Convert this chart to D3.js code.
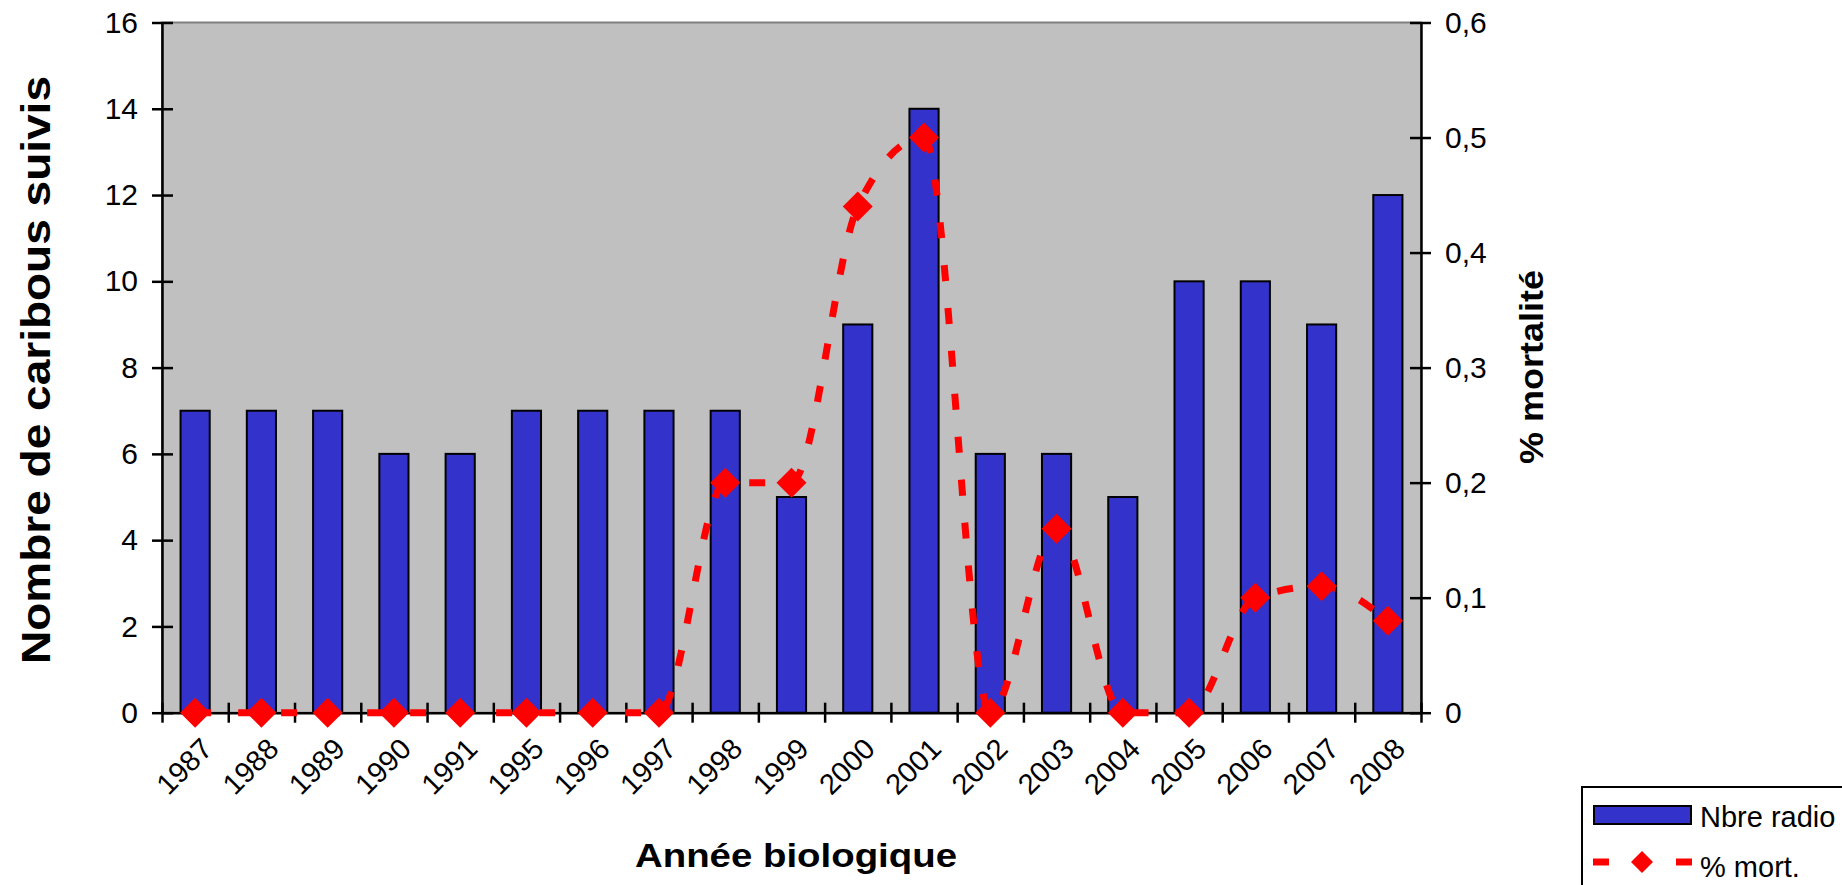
<!DOCTYPE html>
<html>
<head>
<meta charset="utf-8">
<script src="https://cdn.jsdelivr.net/npm/d3@7"></script>
<style>
  html, body { margin: 0; padding: 0; background: #ffffff; overflow: hidden; }
  svg { display: block; font-family: "Liberation Sans", Arial, sans-serif; }
</style>
</head>
<body>
<svg id="chart" width="1842" height="885"></svg>
<script>
// ---- data ----
const years = ["1987","1988","1989","1990","1991","1995","1996","1997","1998","1999","2000","2001","2002","2003","2004","2005","2006","2007","2008"];
const nbreRadio = [7,7,7,6,6,7,7,7,7,5,9,14,6,6,5,10,10,9,12];
const mortalite = [0,0,0,0,0,0,0,0,0.2,0.2,0.44,0.5,0,0.16,0,0,0.1,0.11,0.08];
const leftTicks = [0,2,4,6,8,10,12,14,16];
const rightTicks = [0,0.1,0.2,0.3,0.4,0.5,0.6];
const xTitle = "Année biologique";
const yLeftTitle = "Nombre de caribous suivis";
const yRightTitle = "% mortalité";
const legendLabels = ["Nbre radio", "% mort."];

// ---- layout ----
const plot = {left: 162, right: 1421, top: 22.5, bottom: 712.7};
const svg = d3.select("#chart");

const x = d3.scaleBand().domain(years).range([plot.left, plot.right]).padding(0);
const xBound = d3.scaleLinear().domain([0, years.length]).range([plot.left, plot.right]);
const yL = d3.scaleLinear().domain([0, 16]).range([plot.bottom, plot.top]);
const yR = d3.scaleLinear().domain([0, 0.6]).range([plot.bottom, plot.top]);
const fmtComma = d3.formatLocale({decimal: ",", thousands: " ", grouping: [3], currency: ["", ""]}).format(".1~f");

// plot background
svg.append("rect")
  .attr("x", plot.left).attr("y", plot.top)
  .attr("width", plot.right - plot.left).attr("height", plot.bottom - plot.top)
  .attr("fill", "#C0C0C0").attr("stroke", "#808080").attr("stroke-width", 2);

// bars
const bw = x.bandwidth() * 0.44;
svg.append("g").selectAll("rect").data(years).join("rect")
  .attr("x", d => x(d) + (x.bandwidth() - bw) / 2)
  .attr("y", (d, i) => yL(nbreRadio[i]))
  .attr("width", bw)
  .attr("height", (d, i) => plot.bottom - yL(nbreRadio[i]))
  .attr("fill", "#3333CC").attr("stroke", "#000").attr("stroke-width", 2);

// axes
function styleAxis(g, size) {
  g.select(".domain").attr("stroke", "#000").attr("stroke-width", 2.5);
  g.selectAll(".tick line").attr("stroke", "#000").attr("stroke-width", 2.5);
  g.selectAll("text").attr("fill", "#000").attr("font-size", size);
}

const gL = svg.append("g").attr("transform", `translate(${plot.left},0)`)
  .call(d3.axisLeft(yL).tickValues(leftTicks).tickSize(10).tickSizeOuter(0).tickPadding(14).tickFormat(d3.format("d")));
styleAxis(gL, 30);
gL.selectAll(".tick line").attr("x1", 11);

const gR = svg.append("g").attr("transform", `translate(${plot.right},0)`)
  .call(d3.axisRight(yR).tickValues(rightTicks).tickSize(10).tickSizeOuter(0).tickPadding(14).tickFormat(d => d === 0 ? "0" : fmtComma(d)));
styleAxis(gR, 30);
gR.selectAll(".tick line").attr("x1", -11);

const gB = svg.append("g").attr("transform", `translate(0,${plot.bottom})`)
  .call(d3.axisBottom(xBound).tickValues(d3.range(0, years.length + 1)).tickSize(10).tickSizeOuter(0).tickFormat(""));
styleAxis(gB, 30);
gB.selectAll(".tick line").attr("y1", -10);

const gX = svg.append("g").attr("transform", `translate(0,${plot.bottom})`)
  .call(d3.axisBottom(x).tickSize(0).tickFormat(d => d));
gX.select(".domain").remove();
gX.selectAll("text")
  .attr("fill", "#000").attr("font-size", 29)
  .attr("text-anchor", "end").attr("x", 0).attr("y", 0).attr("dy", 0)
  .attr("transform", "translate(19,38) rotate(-45)");

// line (smoothed, dashed)
const line = d3.line()
  .x((d, i) => x(years[i]) + x.bandwidth() / 2)
  .y(d => yR(d))
  .curve(d3.curveMonotoneX);
svg.append("path").datum(mortalite)
  .attr("d", line)
  .attr("fill", "none").attr("stroke", "#FF0000").attr("stroke-width", 7)
  .attr("stroke-dasharray", "16,27");

// markers
const diamond = (cx, cy, r) => `M${cx},${cy - r}L${cx + r},${cy}L${cx},${cy + r}L${cx - r},${cy}Z`;
svg.append("g").selectAll("path").data(mortalite).join("path")
  .attr("d", (d, i) => diamond(x(years[i]) + x.bandwidth() / 2, yR(d), 15))
  .attr("fill", "#FF0000");

// titles
svg.append("text")
  .attr("x", 796).attr("y", 867)
  .attr("text-anchor", "middle").attr("font-size", 34).attr("font-weight", "bold")
  .attr("textLength", 322).attr("lengthAdjust", "spacingAndGlyphs")
  .text(xTitle);

svg.append("text")
  .attr("transform", "translate(50,370) rotate(-90)")
  .attr("text-anchor", "middle").attr("font-size", 40).attr("font-weight", "bold")
  .attr("textLength", 588).attr("lengthAdjust", "spacingAndGlyphs")
  .text(yLeftTitle);

svg.append("text")
  .attr("transform", "translate(1543,367) rotate(-90)")
  .attr("text-anchor", "middle").attr("font-size", 34).attr("font-weight", "bold")
  .attr("textLength", 194).attr("lengthAdjust", "spacingAndGlyphs")
  .text(yRightTitle);

// legend
const lg = svg.append("g");
lg.append("rect").attr("x", 1582).attr("y", 787).attr("width", 300).attr("height", 130)
  .attr("fill", "#fff").attr("stroke", "#000").attr("stroke-width", 2);
lg.append("rect").attr("x", 1594).attr("y", 806).attr("width", 97).attr("height", 18)
  .attr("fill", "#3333CC").attr("stroke", "#000").attr("stroke-width", 2);
lg.append("text").attr("x", 1700).attr("y", 827).attr("font-size", 29).attr("fill", "#000").text(legendLabels[0]);
lg.append("line").attr("x1", 1593).attr("x2", 1692).attr("y1", 862).attr("y2", 862)
  .attr("stroke", "#FF0000").attr("stroke-width", 7).attr("stroke-dasharray", "16,67");
lg.append("path").attr("d", diamond(1642, 862, 11)).attr("fill", "#FF0000");
lg.append("text").attr("x", 1700).attr("y", 877).attr("font-size", 29).attr("fill", "#000").text(legendLabels[1]);
</script>
</body>
</html>
